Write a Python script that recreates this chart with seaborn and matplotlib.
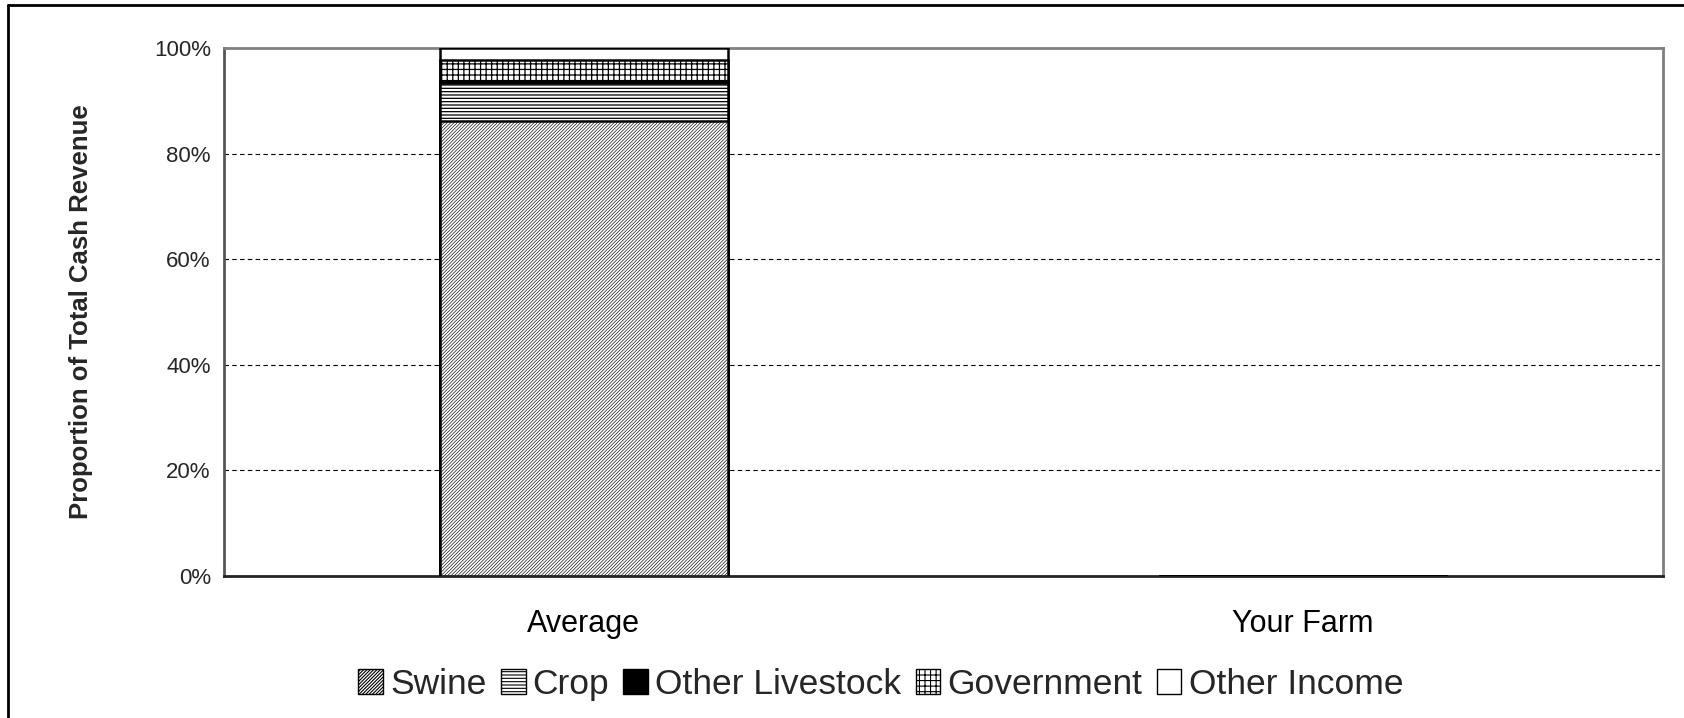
import matplotlib
matplotlib.use("Agg")
import matplotlib.pyplot as plt
import seaborn as sns
import numpy as np
import pandas as pd
from matplotlib.patches import Patch
from matplotlib.lines import Line2D
from matplotlib.ticker import PercentFormatter

categories = ["Average", "Your Farm"]
series_names = ["Swine", "Crop", "Other Livestock", "Government", "Other Income"]
swine = [86.2, 0.0]
crop = [7.2, 0.0]
other_livestock = [0.3, 0.0]
government = [4.0, 0.0]
other_income = [2.3, 0.0]
y_ticks = [0, 20, 40, 60, 80, 100]

sns.set_theme(style="white")
plt.rcParams['font.family'] = ['Liberation Sans', 'DejaVu Sans']

series = [swine, crop, other_livestock, government, other_income]
styles = [
    dict(facecolor="white", hatch="//////////", hlw=0.45),
    dict(facecolor="white", hatch="-----", hlw=0.9),
    dict(facecolor="black", hatch=None, hlw=0.9),
    dict(facecolor="white", hatch="+++", hlw=0.9),
    dict(facecolor="white", hatch=None, hlw=0.9),
]

fig = plt.figure(figsize=(16.84, 7.18), dpi=100)
ax = fig.add_axes([0.133, 0.198, 0.8545, 0.7352])

cum = np.cumsum(np.array(series), axis=0)
# draw from top cumulative down so lower layers overlay
for i in range(len(series) - 1, -1, -1):
    df = pd.DataFrame({"cat": categories, "val": cum[i]})
    st = styles[i]
    plt.rcParams['hatch.linewidth'] = st["hlw"]
    sns.barplot(data=df, x="cat", y="val", ax=ax, width=0.4, saturation=1,
                color=st["facecolor"], edgecolor="black", linewidth=1.8,
                hatch=st["hatch"], zorder=6)

ax.set_xlim(-0.5, 1.5)
ax.set_ylim(0, 100)
ax.set_yticks(y_ticks)
ax.yaxis.set_major_formatter(PercentFormatter(decimals=0))
ax.set_xticks([0, 1])
ax.set_xticklabels(categories)
ax.set_xticks([-0.5, 0.5, 1.5], minor=True)
ax.tick_params(axis="x", which="major", length=0, labelsize=22, pad=24, colors="black")
ax.tick_params(axis="x", which="minor", length=8, width=1.2, direction="out", color="#333333")
ax.tick_params(axis="y", length=11, width=1.2, direction="inout", labelsize=16, pad=4, color="#333333")
ax.set_xlabel("")
ax.set_ylabel("Proportion of Total Cash Revenue", fontsize=18.5, fontweight="bold", labelpad=44)

for y in [20, 40, 60, 80]:
    ax.axhline(y, color="black", linestyle=(0, (4, 3)), linewidth=0.8, zorder=1)

for s in ["top", "right", "left"]:
    ax.spines[s].set_color("#808080")
    ax.spines[s].set_linewidth(2)
ax.spines["left"].set_color("#555555")
ax.spines["bottom"].set_color("#222222")
ax.spines["bottom"].set_linewidth(2)
for s in ax.spines.values():
    s.set_zorder(2)

plt.rcParams['hatch.linewidth'] = 0.8
handles = [Patch(facecolor=st["facecolor"], edgecolor="black", hatch=st["hatch"], linewidth=1)
           for st in styles]
fig.legend(handles, series_names, loc="center", bbox_to_anchor=(0.523, 0.047), ncol=5,
           frameon=False, fontsize=25.5, handlelength=0.7, handleheight=0.7,
           handletextpad=0.2, columnspacing=0.4, borderpad=0)

# figure border (top and left visible)
fig.add_artist(Line2D([8/1684, 8/1684], [0, 1 - 5/718], transform=fig.transFigure,
                      color="black", linewidth=2))
fig.add_artist(Line2D([8/1684, 1], [1 - 5/718, 1 - 5/718], transform=fig.transFigure,
                      color="black", linewidth=2))

fig.savefig("out.png", dpi=100)
